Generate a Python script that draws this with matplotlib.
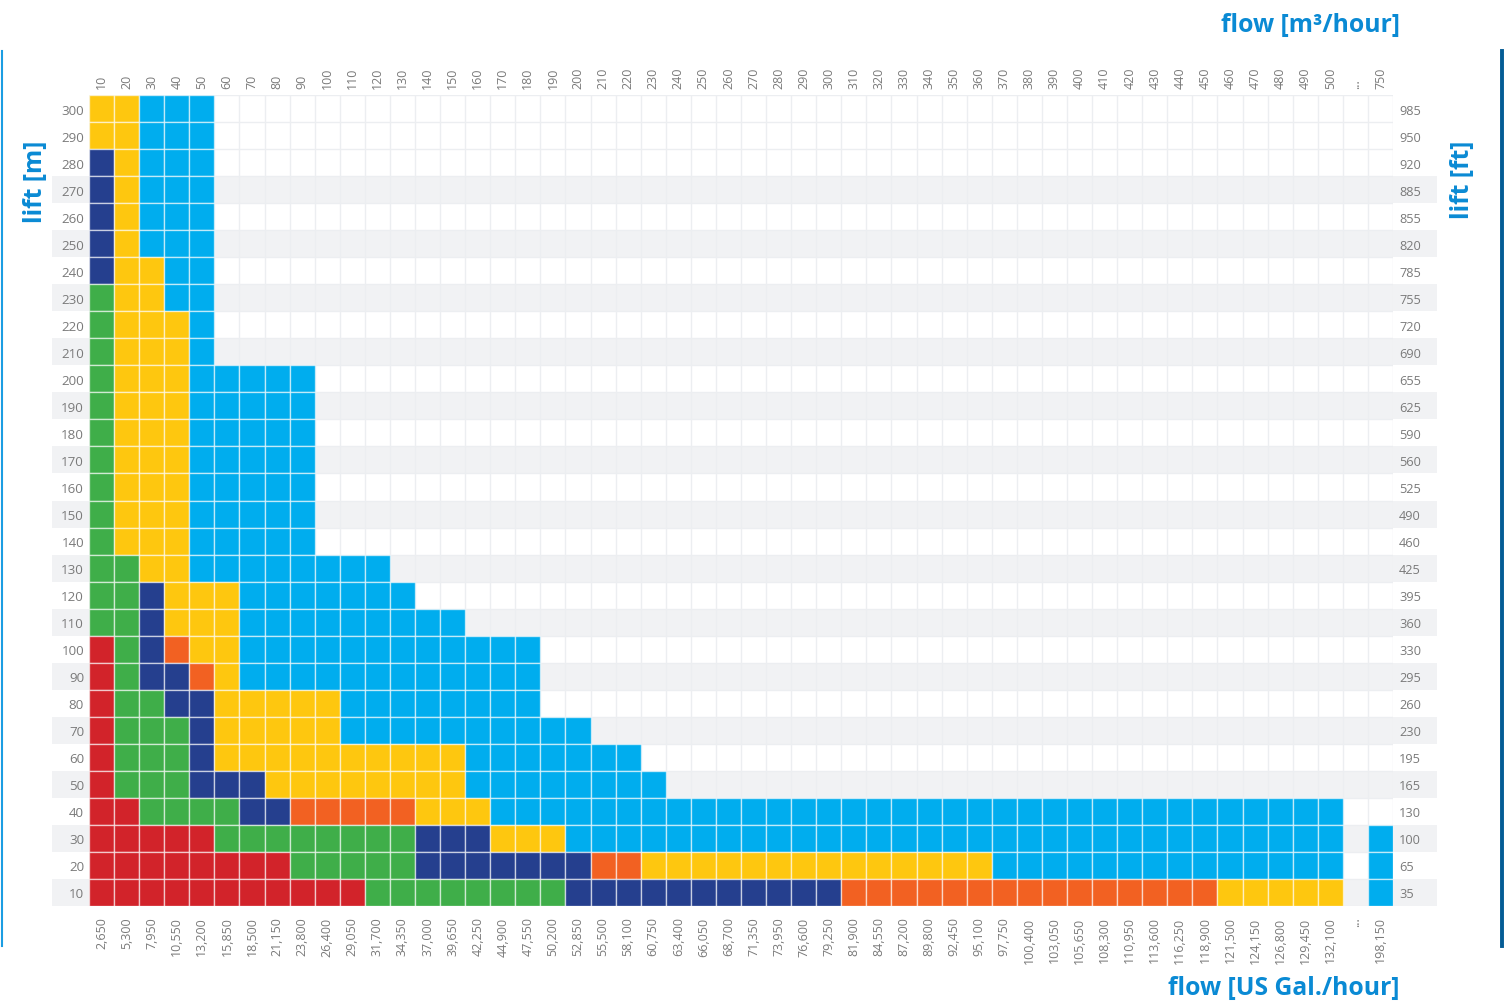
import matplotlib
matplotlib.use("Agg")
import matplotlib.pyplot as plt
import numpy as np
from matplotlib.patches import Rectangle
from matplotlib.collections import PatchCollection
from matplotlib.lines import Line2D

# ---------------- data ----------------
flow_m3 = ["10", "20", "30", "40", "50", "60", "70", "80", "90", "100",
           "110", "120", "130", "140", "150", "160", "170", "180", "190", "200",
           "210", "220", "230", "240", "250", "260", "270", "280", "290", "300",
           "310", "320", "330", "340", "350", "360", "370", "380", "390", "400",
           "410", "420", "430", "440", "450", "460", "470", "480", "490", "500",
           "...", "750"]
flow_gal = ["2,650", "5,300", "7,950", "10,550", "13,200", "15,850", "18,500", "21,150",
            "23,800", "26,400", "29,050", "31,700", "34,350", "37,000", "39,650", "42,250",
            "44,900", "47,550", "50,200", "52,850", "55,500", "58,100", "60,750", "63,400",
            "66,050", "68,700", "71,350", "73,950", "76,600", "79,250", "81,900", "84,550",
            "87,200", "89,800", "92,450", "95,100", "97,750", "100,400", "103,050", "105,650",
            "108,300", "110,950", "113,600", "116,250", "118,900", "121,500", "124,150",
            "126,800", "129,450", "132,100", "...", "198,150"]
lift_m = [300, 290, 280, 270, 260, 250, 240, 230, 220, 210, 200, 190, 180, 170, 160,
          150, 140, 130, 120, 110, 100, 90, 80, 70, 60, 50, 40, 30, 20, 10]
lift_ft = [985, 950, 920, 885, 855, 820, 785, 755, 720, 690, 655, 625, 590, 560, 525,
           490, 460, 425, 395, 360, 330, 295, 260, 230, 195, 165, 130, 100, 65, 35]

# pump series per cell, run-length coded (code+count), rows top (300 m) to bottom (10 m)
# R=red, G=green, N=navy, O=orange, Y=yellow, B=blue, .=none
cells_rle = [
    "Y2 B3",                    # 300
    "Y2 B3",                    # 290
    "N1 Y1 B3",                 # 280
    "N1 Y1 B3",                 # 270
    "N1 Y1 B3",                 # 260
    "N1 Y1 B3",                 # 250
    "N1 Y2 B2",                 # 240
    "G1 Y2 B2",                 # 230
    "G1 Y3 B1",                 # 220
    "G1 Y3 B1",                 # 210
    "G1 Y3 B5",                 # 200
    "G1 Y3 B5",                 # 190
    "G1 Y3 B5",                 # 180
    "G1 Y3 B5",                 # 170
    "G1 Y3 B5",                 # 160
    "G1 Y3 B5",                 # 150
    "G1 Y3 B5",                 # 140
    "G2 Y2 B8",                 # 130
    "G2 N1 Y3 B7",              # 120
    "G2 N1 Y3 B9",              # 110
    "R1 G1 N1 O1 Y2 B12",       # 100
    "R1 G1 N2 O1 Y1 B12",       # 90
    "R1 G2 N2 Y5 B8",           # 80
    "R1 G3 N1 Y5 B10",          # 70
    "R1 G3 N1 Y10 B7",          # 60
    "R1 G3 N3 Y8 B8",           # 50
    "R2 G4 N2 O5 Y3 B34",       # 40
    "R5 G8 N3 Y3 B31 .1 B1",    # 30
    "R8 G5 N7 O2 Y14 B14 .1 B1",  # 20
    "R11 G8 N11 O15 Y5 .1 B1",  # 10
]

palette = {"R": "#d2232a", "G": "#3fae49", "N": "#253f8e",
           "O": "#f26122", "Y": "#fec70f", "B": "#00adee"}

# striped (grey) rows by lift value
striped_rows = [270, 250, 230, 210, 190, 170, 150, 130, 110, 90, 70, 50, 30, 10]

# ---------------- styling ----------------
W, H = 1504, 1003
TITLE_BLUE = "#0a8ad4"
TICK_GREY = "#7a7a7a"
STRIPE = "#f1f2f4"
plt.rcParams["font.family"] = ["Open Sans", "DejaVu Sans"]

fig = plt.figure(figsize=(W / 100, H / 100), dpi=100)
x0_px, x1_px, y0_px, y1_px = 89, 1393, 96, 907
ax = fig.add_axes([x0_px / W, 1 - y1_px / H, (x1_px - x0_px) / W, (y1_px - y0_px) / H])
ncol, nrow = len(flow_m3), len(lift_m)
ax.set_xlim(0, ncol)
ax.set_ylim(0, nrow)
ax.patch.set_visible(False)
for s in ax.spines.values():
    s.set_visible(False)

cell_w_px = (x1_px - x0_px) / ncol
stripe_left = -(x0_px - 52) / cell_w_px
stripe_right = (1437 - x0_px) / cell_w_px

def expand(rle):
    out = []
    for tok in rle.split():
        out.extend(tok[0] * int(tok[1:]))
    out += ["."] * (ncol - len(out))
    return out

# stripes
for r, lv in enumerate(lift_m):
    yi = nrow - 1 - r
    if lv in striped_rows:
        ax.add_patch(Rectangle((stripe_left, yi), stripe_right - stripe_left, 1,
                               facecolor=STRIPE, edgecolor="none", zorder=0, clip_on=False))

# light grid for empty cells
ax.set_xticks(np.arange(0, ncol + 1), minor=True)
ax.set_yticks(np.arange(0, nrow + 1), minor=True)
ax.grid(which="minor", color="#eceef1", linewidth=1.0, zorder=0.5)
ax.set_axisbelow(True)

# coloured cells
rects, cols = [], []
for r, rle in enumerate(cells_rle):
    yi = nrow - 1 - r
    for c, code in enumerate(expand(rle)):
        if code == ".":
            continue
        rects.append(Rectangle((c, yi), 1, 1))
        cols.append(palette[code])
pc = PatchCollection(rects, facecolors=cols, edgecolors=(1, 1, 1, 0.6),
                     linewidths=1.0, zorder=2)
ax.add_collection(pc)

# ticks
centers_x = np.arange(ncol) + 0.5
centers_y = nrow - 1 - np.arange(nrow) + 0.5
ax.xaxis.tick_top()
ax.set_xticks(centers_x, labels=flow_m3, rotation=90, fontsize=9.0, color=TICK_GREY)
ax.set_yticks(centers_y, labels=[str(v) for v in lift_m], fontsize=9.6, color=TICK_GREY)
ax.tick_params(axis="x", which="both", length=0, pad=5.0)
ax.tick_params(axis="y", which="both", length=0, pad=3.6)

secx = ax.secondary_xaxis("bottom")
secx.set_xticks(centers_x, labels=flow_gal, rotation=90, fontsize=9.0, color=TICK_GREY)
secx.tick_params(length=0, pad=7.5)
for s in secx.spines.values():
    s.set_visible(False)

secy = ax.secondary_yaxis("right")
secy.set_yticks(centers_y, labels=[str(v) for v in lift_ft], fontsize=9.2, color=TICK_GREY)
secy.tick_params(length=0, pad=4.3)
for s in secy.spines.values():
    s.set_visible(False)

# titles
TS = 17.8
fig.text(1400 / W, 1 - 25 / H, "flow [m³/hour]", ha="right", va="center",
         fontsize=TS, fontweight="bold", color=TITLE_BLUE)
fig.text(1400 / W, 1 - 988 / H, "flow [US Gal./hour]", ha="right", va="center",
         fontsize=TS, fontweight="bold", color=TITLE_BLUE)
fig.text(35 / W, 1 - 182 / H, "lift [m]", ha="center", va="center", rotation=90,
         fontsize=TS, fontweight="bold", color=TITLE_BLUE)
fig.text(1462 / W, 1 - 180 / H, "lift [ft]", ha="center", va="center", rotation=90,
         fontsize=TS, fontweight="bold", color=TITLE_BLUE)

# frame lines
fig.add_artist(Line2D([2 / W, 2 / W], [1 - 52 / H, 1 - 947 / H], color="#1b9de2", lw=1.5))
fig.add_artist(Line2D([1501.8 / W, 1501.8 / W], [1 - 52 / H, 1 - 947 / H], color="#045c95", lw=2.8))

fig.savefig("out.png", dpi=100)
